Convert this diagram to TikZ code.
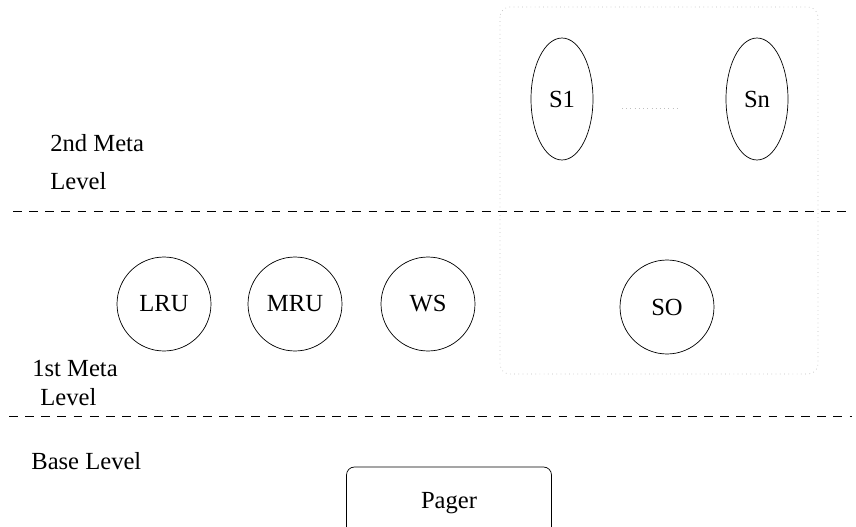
\documentclass[tikz,border=0pt]{standalone}
\usepackage{fontspec}
\setmainfont{Liberation Serif}
\usetikzlibrary{shapes.geometric}
\tikzset{
	algo/.style={draw, circle, thin, minimum size=1.88cm, inner sep=0pt, font=\fontsize{14}{17}\selectfont},
	strat/.style={draw, ellipse, thin, minimum width=1.24cm, minimum height=2.44cm, inner sep=0pt, font=\fontsize{14}{17}\selectfont},
	lbl/.style={inner sep=0pt, font=\fontsize{14}{17}\selectfont},
	levelline/.style={thin, dash pattern=on 5pt off 4.2pt},
	faint/.style={black!25, thin, dotted}
}
\begin{document}
\begin{tikzpicture}[x=0.02cm, y=-0.02cm]
			%%%%% START %%%%%
			\useasboundingbox (0, 0) rectangle (856, 527);
			
			% meta strategies group
			\draw[faint, rounded corners=0.2cm] (500, 7) rectangle (818, 374);
			
			\node[strat] (s1) at (562, 99) {S1};
			\node[strat] (sn) at (757, 99) {Sn};
			\draw[faint] (622, 108) -- (680, 108);
			
			\node[lbl, anchor=west] (meta2a) at (50, 143) {2nd Meta};
			\node[lbl, anchor=west] (meta2b) at (50, 181) {Level};
			
			\draw[levelline] (13, 211) -- (852, 211);
			
			\node[algo] (lru) at (164, 304) {LRU};
			\node[algo] (mru) at (295, 304) {MRU};
			\node[algo] (ws) at (428, 304) {WS};
			\node[algo] (so) at (667, 307) {SO};
			
			\node[lbl, anchor=west] (meta1a) at (32, 368) {1st Meta};
			\node[lbl, anchor=west] (meta1b) at (40, 397) {Level};
			
			\draw[levelline] (9, 416) -- (852, 416);
			
			\node[lbl, anchor=west] (base) at (31, 461) {Base Level};
			
			\node[draw, thin, rounded corners=4.5pt, minimum width=4.1cm, minimum height=1.44cm, lbl] (pager) at (449, 503) {Pager};
			%%%%% END %%%%%
\end{tikzpicture}
\end{document}
